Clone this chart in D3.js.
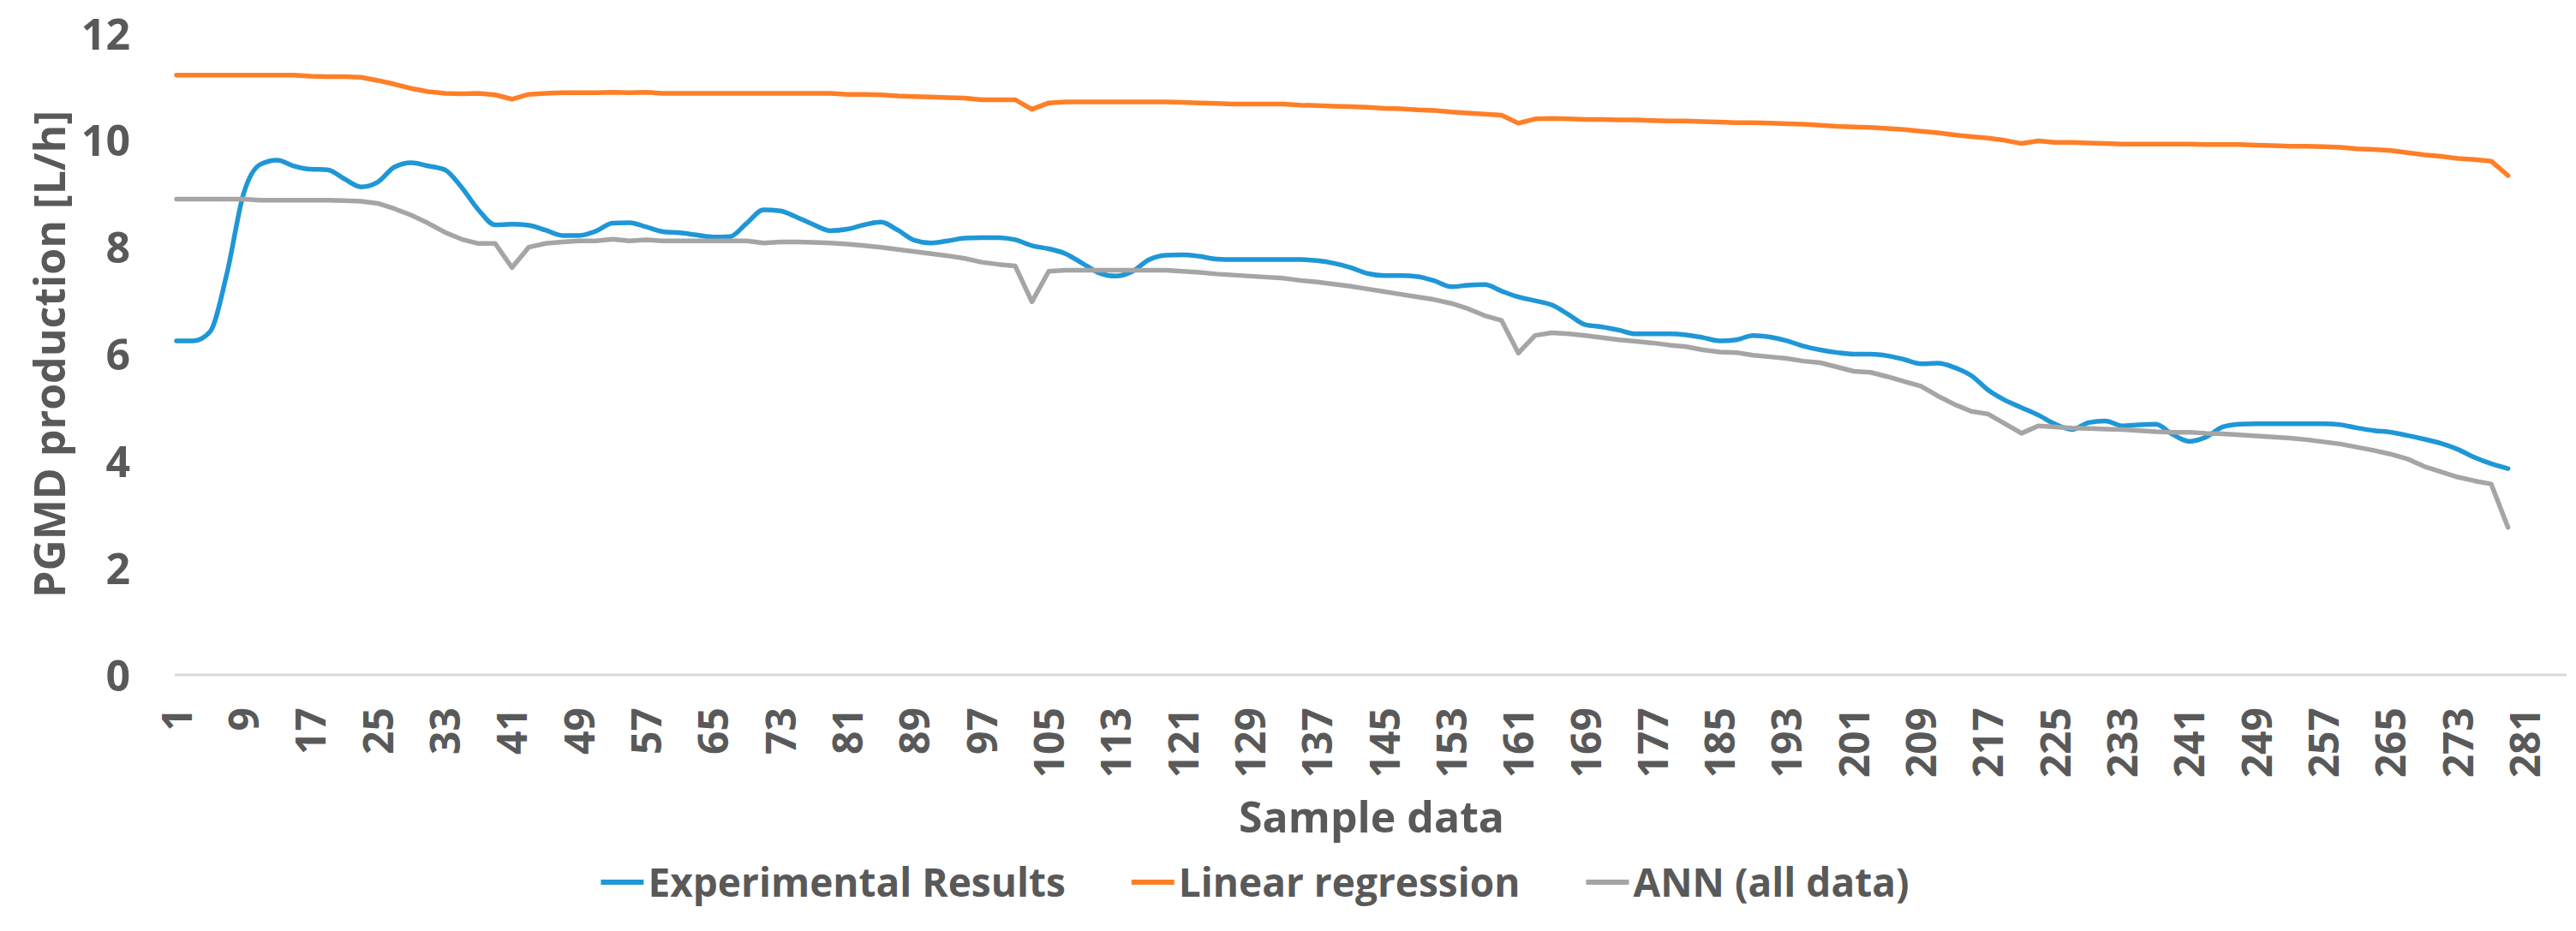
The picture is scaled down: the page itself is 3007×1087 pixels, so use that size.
<!DOCTYPE html>
<html>
<head>
<meta charset="utf-8">
<script src="https://cdn.jsdelivr.net/npm/d3@7"></script>
<style>
  body { margin: 0; background: #fff; }
  text { font-family: 'Open Sans', sans-serif; fill: #595959; }
</style>
</head>
<body>
<script>
// Chart settings
const width = 3007
const height = 1087
const plotLeft = 206
const sampleStep = 9.79
const lastCategory = 286
const yTop = 39
const yBottom = 788

// Colors
const blueColor = '#1f97d6'
const orangeColor = '#ff7f27'
const grayColor = '#a5a5a5'
const textColor = '#595959'

// Data: samples read every 2 steps off the picture
const samples = d3.range(1, 280, 2)

const experimental = [
  6.25, 6.25, 6.42, 7.5, 9.0, 9.55, 9.63, 9.52, 9.46, 9.45,
  9.28, 9.13, 9.22, 9.5, 9.58, 9.52, 9.45, 9.12, 8.7, 8.42,
  8.43, 8.41, 8.32, 8.22, 8.22, 8.3, 8.45, 8.46, 8.38, 8.29,
  8.27, 8.23, 8.19, 8.2, 8.45, 8.7, 8.68, 8.56, 8.42, 8.31,
  8.34, 8.42, 8.47, 8.32, 8.13, 8.08, 8.12, 8.17, 8.18, 8.18,
  8.14, 8.03, 7.97, 7.88, 7.7, 7.52, 7.46, 7.55, 7.77, 7.85,
  7.86, 7.83, 7.78, 7.77, 7.77, 7.77, 7.77, 7.77, 7.75, 7.7,
  7.62, 7.51, 7.47, 7.47, 7.45, 7.37, 7.26, 7.29, 7.3, 7.18,
  7.07, 7.0, 6.92, 6.74, 6.55, 6.51, 6.45, 6.38, 6.38, 6.38,
  6.36, 6.31, 6.25, 6.27, 6.35, 6.32, 6.25, 6.15, 6.08, 6.03,
  6.0, 6.0, 5.97, 5.9, 5.82, 5.83, 5.75, 5.6, 5.33, 5.14,
  5.0, 4.86, 4.69, 4.59, 4.72, 4.75, 4.66, 4.68, 4.69, 4.5,
  4.37, 4.45, 4.64, 4.69, 4.7, 4.7, 4.7, 4.7, 4.7, 4.68,
  4.62, 4.57, 4.54, 4.48, 4.41, 4.33, 4.22, 4.07, 3.95, 3.86
]

const linearRegression = [
  11.22, 11.22, 11.22, 11.22, 11.22, 11.22, 11.22, 11.22, 11.2, 11.19,
  11.19, 11.18, 11.12, 11.05, 10.97, 10.91, 10.88, 10.87, 10.88, 10.85,
  10.77, 10.86, 10.88, 10.89, 10.89, 10.89, 10.9, 10.89, 10.9, 10.88,
  10.88, 10.88, 10.88, 10.88, 10.88, 10.88, 10.88, 10.88, 10.88, 10.88,
  10.86, 10.86, 10.85, 10.83, 10.82, 10.81, 10.8, 10.79, 10.76, 10.76,
  10.76, 10.58, 10.7, 10.72, 10.72, 10.72, 10.72, 10.72, 10.72, 10.72,
  10.71, 10.7, 10.69, 10.68, 10.68, 10.68, 10.68, 10.66, 10.65, 10.64,
  10.63, 10.62, 10.6, 10.59, 10.57, 10.56, 10.53, 10.51, 10.49, 10.47,
  10.32, 10.4, 10.41, 10.4, 10.39, 10.39, 10.38, 10.38, 10.37, 10.36,
  10.36, 10.35, 10.34, 10.33, 10.33, 10.32, 10.31, 10.3, 10.28, 10.26,
  10.25, 10.24, 10.22, 10.2, 10.17, 10.14, 10.1, 10.07, 10.04, 10.0,
  9.94, 9.99, 9.96, 9.96, 9.95, 9.94, 9.93, 9.93, 9.93, 9.93,
  9.93, 9.92, 9.92, 9.92, 9.91, 9.9, 9.89, 9.89, 9.88, 9.87,
  9.84, 9.83, 9.81, 9.77, 9.73, 9.7, 9.66, 9.64, 9.61, 9.34
]

const annAllData = [
  8.9, 8.9, 8.9, 8.9, 8.9, 8.88, 8.88, 8.88, 8.88, 8.88,
  8.87, 8.86, 8.82, 8.72, 8.6, 8.45, 8.28, 8.15, 8.07, 8.07,
  7.62, 8.0, 8.07, 8.1, 8.12, 8.12, 8.15, 8.12, 8.14, 8.12,
  8.12, 8.12, 8.12, 8.12, 8.12, 8.08, 8.1, 8.1, 8.09, 8.08,
  8.06, 8.03, 8.0, 7.96, 7.92, 7.88, 7.84, 7.79, 7.72, 7.68,
  7.65, 6.98, 7.55, 7.57, 7.57, 7.57, 7.57, 7.57, 7.57, 7.57,
  7.55, 7.53, 7.5, 7.48, 7.46, 7.44, 7.42, 7.38, 7.35, 7.31,
  7.27, 7.22, 7.17, 7.12, 7.07, 7.02, 6.95, 6.85, 6.72, 6.63,
  6.02, 6.35, 6.4, 6.38, 6.35, 6.31, 6.27, 6.24, 6.21, 6.17,
  6.14, 6.08, 6.04, 6.03, 5.98, 5.95, 5.92, 5.87, 5.84, 5.76,
  5.68, 5.66, 5.58, 5.49, 5.4, 5.22, 5.06, 4.93, 4.88, 4.7,
  4.52, 4.66, 4.64, 4.62, 4.61, 4.6, 4.59, 4.57, 4.55, 4.54,
  4.54, 4.52, 4.51, 4.49, 4.47, 4.45, 4.43, 4.4, 4.36, 4.32,
  4.26, 4.2, 4.13, 4.04, 3.9, 3.8, 3.7, 3.63, 3.57, 2.76
]

const xTickLabels = [
  1, 9, 17, 25, 33, 41, 49, 57, 65, 73, 81, 89, 97, 105, 113, 121, 129, 137,
  145, 153, 161, 169, 177, 185, 193, 201, 209, 217, 225, 233, 241, 249, 257, 265, 273, 281
]
const yTickLabels = [0, 2, 4, 6, 8, 10, 12]

const seriesNames = ['Experimental Results', 'Linear regression', 'ANN (all data)']
const seriesValues = [experimental, linearRegression, annAllData]
const seriesColors = [blueColor, orangeColor, grayColor]

// Create svg
const svg = d3.select('body')
  .append('svg')
  .attr('width', width)
  .attr('height', height)

// Scales
const xScale = d3.scaleLinear()
  .domain([1, lastCategory])
  .range([plotLeft, plotLeft + (lastCategory - 1) * sampleStep])
const yScale = d3.scaleLinear()
  .domain([0, 12])
  .range([yBottom, yTop])

// Zero line
svg.append('line')
  .attr('x1', xScale(1) - 2)
  .attr('x2', xScale(lastCategory))
  .attr('y1', yScale(0))
  .attr('y2', yScale(0))
  .attr('stroke', '#d9d9d9')
  .attr('stroke-width', 3)

// Y axis
const yAxis = svg.append('g')
  .attr('transform', `translate(152, 0)`)
  .call(d3.axisLeft(yScale).tickValues(yTickLabels).tickSize(0).tickPadding(0))
yAxis.select('.domain').remove()
yAxis.selectAll('text')
  .style('font-size', '50px')
  .style('font-weight', 700)
  .style('font-family', "'Open Sans', sans-serif")
  .attr('fill', textColor)
  .attr('dy', '0.36em')

// X axis
const xAxis = svg.append('g')
  .attr('transform', `translate(0, 826)`)
  .call(d3.axisBottom(xScale).tickValues(xTickLabels).tickSize(0).tickPadding(0))
xAxis.select('.domain').remove()
xAxis.selectAll('text')
  .style('font-size', '48px')
  .style('font-weight', 700)
  .style('font-family', "'Open Sans', sans-serif")
  .attr('fill', textColor)
  .attr('y', 0)
  .attr('dy', '0.36em')
  .attr('transform', 'rotate(-90)')
  .style('text-anchor', 'end')
  .attr('x', 0)

// Lines
const line = d3.line()
  .x((d, i) => xScale(samples[i]))
  .y(d => yScale(d))

seriesValues.forEach((values, i) => {
  svg.append('path')
    .datum(values)
    .attr('fill', 'none')
    .attr('stroke', seriesColors[i])
    .attr('stroke-width', 5.5)
    .attr('stroke-linejoin', 'round')
    .attr('stroke-linecap', 'round')
    .attr('d', line.curve(i === 0 ? d3.curveMonotoneX : d3.curveLinear))
})

// Axis titles
svg.append('text')
  .attr('x', (xScale(1) + xScale(lastCategory)) / 2)
  .attr('y', 972)
  .text('Sample data')
  .style('font-size', '50px')
  .style('font-weight', 700)
  .style('text-anchor', 'middle')

svg.append('text')
  .attr('transform', `translate(76, ${(yTop + yBottom) / 2}) rotate(-90)`)
  .text('PGMD production [L/h]')
  .style('font-size', '50px')
  .style('font-weight', 700)
  .style('text-anchor', 'middle')

// Legend
const legend = svg.append('g')
const legendItems = legend.selectAll('g')
  .data(seriesNames)
  .enter()
  .append('g')

legendItems.append('line')
  .attr('x1', 0)
  .attr('x2', 50)
  .attr('y1', 0)
  .attr('y2', 0)
  .attr('stroke', (d, i) => seriesColors[i])
  .attr('stroke-width', 6)

legendItems.append('text')
  .attr('x', 55)
  .attr('y', 0)
  .attr('dy', '0.36em')
  .text(d => d)
  .style('font-size', '46px')
  .style('font-weight', 700)

// Lay legend entries side by side, centered
let offset = 0
const gap = 77
const positions = []
legendItems.each(function () {
  const w = 55 + d3.select(this).select('text').node().getComputedTextLength()
  positions.push(offset)
  offset += w + gap
})
const legendWidth = offset - gap
const legendStart = 1465 - legendWidth / 2
legendItems.attr('transform', (d, i) => `translate(${legendStart + positions[i]}, 1030)`)
</script>
</body>
</html>
